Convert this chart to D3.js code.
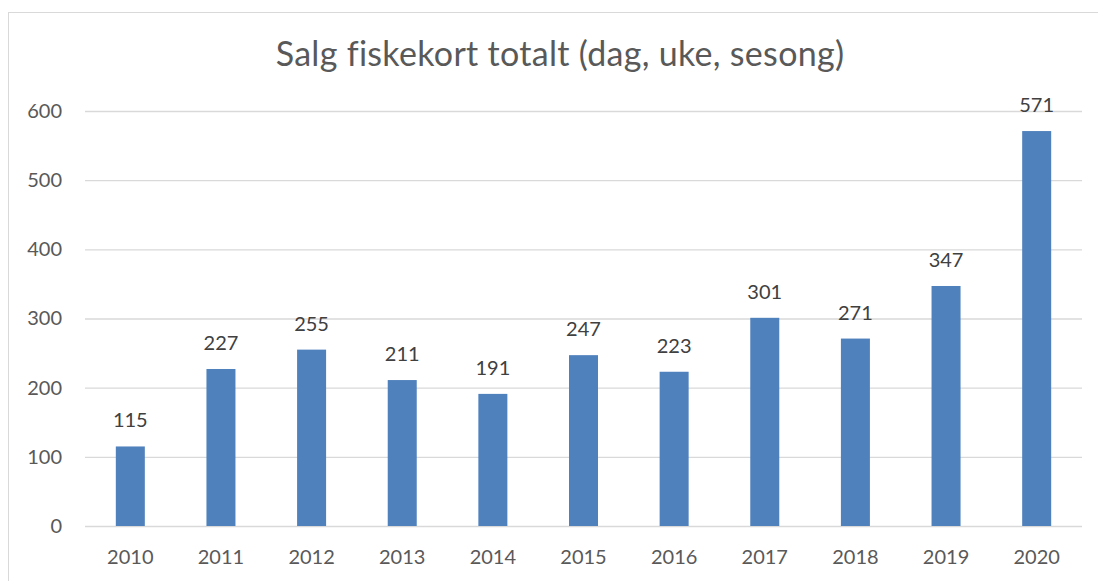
<!DOCTYPE html>
<html>
<head>
<meta charset="utf-8">
<script src="https://cdn.jsdelivr.net/npm/d3@7"></script>
<style>
  body { margin: 0; background: #fff; }
  svg { display: block; font-family: Lato, "Open Sans", sans-serif; }
</style>
</head>
<body>
<div id="chart"></div>
<script>
const years = ["2010", "2011", "2012", "2013", "2014", "2015", "2016", "2017", "2018", "2019", "2020"]
const sales = [115, 227, 255, 211, 191, 247, 223, 301, 271, 347, 571]
const yTicks = [0, 100, 200, 300, 400, 500, 600]
const title = "Salg fiskekort totalt (dag, uke, sesong)"

const W = 1098, H = 581
const margin = { top: 111, right: 16, bottom: 55, left: 85 }
const width = W - margin.left - margin.right
const height = H - margin.top - margin.bottom

const svg = d3.select("#chart")
    .append("svg")
    .attr("width", W)
    .attr("height", H)

// chart border
svg.append("rect")
    .attr("x", 8.5)
    .attr("y", 12.5)
    .attr("width", W + 10)
    .attr("height", H + 10)
    .attr("fill", "none")
    .attr("stroke", "#d9d9d9")

svg.append("text")
    .attr("x", 560)
    .attr("y", 66)
    .attr("text-anchor", "middle")
    .attr("font-size", 34)
    .attr("letter-spacing", 0.3)
    .attr("fill", "#595959")
    .text(title)

const g = svg.append("g")
    .attr("transform", `translate(${margin.left}, ${margin.top})`)

const x = d3.scaleBand()
    .domain(years)
    .range([0, width])
    .paddingInner(0.68)
    .paddingOuter(0.34)

const y = d3.scaleLinear()
    .domain([0, 600])
    .range([height, 0])

/* gridlines */
g.selectAll(".grid")
    .data(yTicks)
    .enter()
    .append("line")
    .attr("x1", 0)
    .attr("x2", width)
    .attr("y1", d => y(d) + 0.5)
    .attr("y2", d => y(d) + 0.5)
    .attr("stroke", "#d9d9d9")
    .attr("stroke-width", 1.3)

/* Y-axis */
const yAxis = g.append("g")
    .call(d3.axisLeft(y).tickValues(yTicks).tickSize(0).tickPadding(23))
yAxis.select(".domain").remove()
yAxis.selectAll("text")
    .attr("font-size", 20)
    .attr("font-family", "Lato, sans-serif")
    .attr("fill", "#595959")

/* X-axis */
const xAxis = g.append("g")
    .attr("transform", `translate(0, ${height})`)
    .call(d3.axisBottom(x).tickSize(0).tickPadding(24))
xAxis.select(".domain").remove()
xAxis.selectAll("text")
    .attr("font-size", 20)
    .attr("font-family", "Lato, sans-serif")
    .attr("fill", "#595959")

/* bars */
g.selectAll(".bar")
    .data(sales)
    .enter()
    .append("rect")
    .attr("x", (d, i) => x(years[i]))
    .attr("y", d => y(d))
    .attr("width", x.bandwidth())
    .attr("height", d => height - y(d))
    .attr("fill", "#4f81bd")

g.selectAll(".bar-label")
    .data(sales)
    .enter()
    .append("text")
    .text(d => d)
    .attr("x", (d, i) => x(years[i]) + x.bandwidth() / 2)
    .attr("y", d => y(d) - 19)
    .attr("text-anchor", "middle")
    .attr("font-size", 20)
    .attr("fill", "#404040")
</script>
</body>
</html>
